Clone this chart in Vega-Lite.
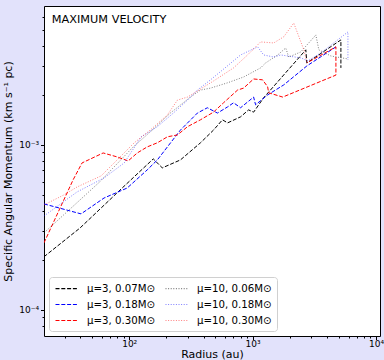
{
  "$schema": "https://vega.github.io/schema/vega-lite/v6.json",
  "width": 336,
  "height": 330,
  "autosize": {"type": "none"},
  "padding": {"left": 44, "top": 6, "right": 4, "bottom": 24},
  "background": "#e2e2fb",
  "config": {
    "font": "DejaVu Sans",
    "view": {"stroke": "#000000", "strokeWidth": 1, "fill": "white"},
    "axis": {"domain": false, "grid": false, "tickColor": "#000000", "labelColor": "#000000", "titleColor": "#000000", "titleFontWeight": "normal", "labelFont": "DejaVu Sans", "titleFont": "DejaVu Sans"}
  },
  "data": {
    "values": [
      {"s": "μ=3, 0.07M⊙", "i": 0, "r": 20.4, "j": 0.000210},
      {"s": "μ=3, 0.07M⊙", "i": 1, "r": 40.0, "j": 0.000314},
      {"s": "μ=3, 0.07M⊙", "i": 2, "r": 87.7, "j": 0.000548},
      {"s": "μ=3, 0.07M⊙", "i": 3, "r": 156.7, "j": 0.000823},
      {"s": "μ=3, 0.07M⊙", "i": 4, "r": 185.4, "j": 0.000726},
      {"s": "μ=3, 0.07M⊙", "i": 5, "r": 260, "j": 0.000811},
      {"s": "μ=3, 0.07M⊙", "i": 6, "r": 378, "j": 0.00103},
      {"s": "μ=3, 0.07M⊙", "i": 7, "r": 482, "j": 0.00123},
      {"s": "μ=3, 0.07M⊙", "i": 8, "r": 570, "j": 0.00142},
      {"s": "μ=3, 0.07M⊙", "i": 9, "r": 627, "j": 0.00136},
      {"s": "μ=3, 0.07M⊙", "i": 10, "r": 799, "j": 0.00148},
      {"s": "μ=3, 0.07M⊙", "i": 11, "r": 927, "j": 0.00163},
      {"s": "μ=3, 0.07M⊙", "i": 12, "r": 1019, "j": 0.00158},
      {"s": "μ=3, 0.07M⊙", "i": 13, "r": 1228, "j": 0.00193},
      {"s": "μ=3, 0.07M⊙", "i": 14, "r": 2699, "j": 0.00377},
      {"s": "μ=3, 0.07M⊙", "i": 15, "r": 2750, "j": 0.00314},
      {"s": "μ=3, 0.07M⊙", "i": 16, "r": 5193, "j": 0.00433},
      {"s": "μ=3, 0.07M⊙", "i": 17, "r": 5193, "j": 0.00293},

      {"s": "μ=3, 0.18M⊙", "i": 0, "r": 20.4, "j": 0.000439},
      {"s": "μ=3, 0.18M⊙", "i": 1, "r": 40.7, "j": 0.000382},
      {"s": "μ=3, 0.18M⊙", "i": 2, "r": 62.6, "j": 0.000477},
      {"s": "μ=3, 0.18M⊙", "i": 3, "r": 96.3, "j": 0.000548},
      {"s": "μ=3, 0.18M⊙", "i": 4, "r": 140, "j": 0.000706},
      {"s": "μ=3, 0.18M⊙", "i": 5, "r": 169, "j": 0.000811},
      {"s": "μ=3, 0.18M⊙", "i": 6, "r": 204, "j": 0.000973},
      {"s": "μ=3, 0.18M⊙", "i": 7, "r": 260, "j": 0.00123},
      {"s": "μ=3, 0.18M⊙", "i": 8, "r": 357, "j": 0.00156},
      {"s": "μ=3, 0.18M⊙", "i": 9, "r": 430, "j": 0.00168},
      {"s": "μ=3, 0.18M⊙", "i": 10, "r": 519, "j": 0.00156},
      {"s": "μ=3, 0.18M⊙", "i": 11, "r": 627, "j": 0.00170},
      {"s": "μ=3, 0.18M⊙", "i": 12, "r": 701, "j": 0.00180},
      {"s": "μ=3, 0.18M⊙", "i": 13, "r": 799, "j": 0.00168},
      {"s": "μ=3, 0.18M⊙", "i": 14, "r": 1019, "j": 0.00195},
      {"s": "μ=3, 0.18M⊙", "i": 15, "r": 1057, "j": 0.00175},
      {"s": "μ=3, 0.18M⊙", "i": 16, "r": 1324, "j": 0.00201},
      {"s": "μ=3, 0.18M⊙", "i": 17, "r": 1787, "j": 0.00231},
      {"s": "μ=3, 0.18M⊙", "i": 18, "r": 2750, "j": 0.00301},
      {"s": "μ=3, 0.18M⊙", "i": 19, "r": 4732, "j": 0.00393},

      {"s": "μ=3, 0.30M⊙", "i": 0, "r": 20.4, "j": 0.000255},
      {"s": "μ=3, 0.30M⊙", "i": 1, "r": 35.1, "j": 0.000614},
      {"s": "μ=3, 0.30M⊙", "i": 2, "r": 41.5, "j": 0.000778},
      {"s": "μ=3, 0.30M⊙", "i": 3, "r": 61.5, "j": 0.000894},
      {"s": "μ=3, 0.30M⊙", "i": 4, "r": 79.9, "j": 0.000846},
      {"s": "μ=3, 0.30M⊙", "i": 5, "r": 98.1, "j": 0.000800},
      {"s": "μ=3, 0.30M⊙", "i": 6, "r": 116.2, "j": 0.000894},
      {"s": "μ=3, 0.30M⊙", "i": 7, "r": 140, "j": 0.000973},
      {"s": "μ=3, 0.30M⊙", "i": 8, "r": 169, "j": 0.00103},
      {"s": "μ=3, 0.30M⊙", "i": 9, "r": 204, "j": 0.00112},
      {"s": "μ=3, 0.30M⊙", "i": 10, "r": 246, "j": 0.00115},
      {"s": "μ=3, 0.30M⊙", "i": 11, "r": 297, "j": 0.00129},
      {"s": "μ=3, 0.30M⊙", "i": 12, "r": 378, "j": 0.00142},
      {"s": "μ=3, 0.30M⊙", "i": 13, "r": 482, "j": 0.00158},
      {"s": "μ=3, 0.30M⊙", "i": 14, "r": 581, "j": 0.00180},
      {"s": "μ=3, 0.30M⊙", "i": 15, "r": 755, "j": 0.00215},
      {"s": "μ=3, 0.30M⊙", "i": 16, "r": 845, "j": 0.00221},
      {"s": "μ=3, 0.30M⊙", "i": 17, "r": 1019, "j": 0.00251},
      {"s": "μ=3, 0.30M⊙", "i": 18, "r": 1205, "j": 0.00248},
      {"s": "μ=3, 0.30M⊙", "i": 19, "r": 1324, "j": 0.00225},
      {"s": "μ=3, 0.30M⊙", "i": 20, "r": 1349, "j": 0.00207},
      {"s": "μ=3, 0.30M⊙", "i": 21, "r": 1754, "j": 0.00195},
      {"s": "μ=3, 0.30M⊙", "i": 22, "r": 4732, "j": 0.00265},
      {"s": "μ=3, 0.30M⊙", "i": 23, "r": 4732, "j": 0.00393},
      {"s": "μ=3, 0.30M⊙", "i": 24, "r": 2750, "j": 0.00314},

      {"s": "μ=10, 0.06M⊙", "i": 0, "r": 20.4, "j": 0.000293},
      {"s": "μ=10, 0.06M⊙", "i": 1, "r": 58.1, "j": 0.000600},
      {"s": "μ=10, 0.06M⊙", "i": 2, "r": 107.8, "j": 0.000973},
      {"s": "μ=10, 0.06M⊙", "i": 3, "r": 148.2, "j": 0.00120},
      {"s": "μ=10, 0.06M⊙", "i": 4, "r": 215.4, "j": 0.00156},
      {"s": "μ=10, 0.06M⊙", "i": 5, "r": 313.6, "j": 0.00195},
      {"s": "μ=10, 0.06M⊙", "i": 6, "r": 378, "j": 0.00215},
      {"s": "μ=10, 0.06M⊙", "i": 7, "r": 456, "j": 0.00221},
      {"s": "μ=10, 0.06M⊙", "i": 8, "r": 627, "j": 0.00238},
      {"s": "μ=10, 0.06M⊙", "i": 9, "r": 845, "j": 0.00258},
      {"s": "μ=10, 0.06M⊙", "i": 10, "r": 1161, "j": 0.00293},
      {"s": "μ=10, 0.06M⊙", "i": 11, "r": 1275, "j": 0.00314},
      {"s": "μ=10, 0.06M⊙", "i": 12, "r": 1597, "j": 0.00351},
      {"s": "μ=10, 0.06M⊙", "i": 13, "r": 1855, "j": 0.00387},
      {"s": "μ=10, 0.06M⊙", "i": 14, "r": 1962, "j": 0.00341},
      {"s": "μ=10, 0.06M⊙", "i": 15, "r": 2456, "j": 0.00366},
      {"s": "μ=10, 0.06M⊙", "i": 16, "r": 3253, "j": 0.00464},
      {"s": "μ=10, 0.06M⊙", "i": 17, "r": 3441, "j": 0.00377},
      {"s": "μ=10, 0.06M⊙", "i": 18, "r": 4306, "j": 0.00346},
      {"s": "μ=10, 0.06M⊙", "i": 19, "r": 5921, "j": 0.00332},

      {"s": "μ=10, 0.18M⊙", "i": 0, "r": 20.4, "j": 0.000371},
      {"s": "μ=10, 0.18M⊙", "i": 1, "r": 37.8, "j": 0.000519},
      {"s": "μ=10, 0.18M⊙", "i": 2, "r": 62.6, "j": 0.000631},
      {"s": "μ=10, 0.18M⊙", "i": 3, "r": 91.1, "j": 0.000778},
      {"s": "μ=10, 0.18M⊙", "i": 4, "r": 125.2, "j": 0.00112},
      {"s": "μ=10, 0.18M⊙", "i": 5, "r": 169, "j": 0.00129},
      {"s": "μ=10, 0.18M⊙", "i": 6, "r": 228, "j": 0.00156},
      {"s": "μ=10, 0.18M⊙", "i": 7, "r": 297, "j": 0.00187},
      {"s": "μ=10, 0.18M⊙", "i": 8, "r": 357, "j": 0.00215},
      {"s": "μ=10, 0.18M⊙", "i": 9, "r": 456, "j": 0.00248},
      {"s": "μ=10, 0.18M⊙", "i": 10, "r": 638, "j": 0.00305},
      {"s": "μ=10, 0.18M⊙", "i": 11, "r": 799, "j": 0.00351},
      {"s": "μ=10, 0.18M⊙", "i": 12, "r": 1099, "j": 0.00393},
      {"s": "μ=10, 0.18M⊙", "i": 13, "r": 1228, "j": 0.00351},
      {"s": "μ=10, 0.18M⊙", "i": 14, "r": 1482, "j": 0.00341},
      {"s": "μ=10, 0.18M⊙", "i": 15, "r": 1690, "j": 0.00351},
      {"s": "μ=10, 0.18M⊙", "i": 16, "r": 2456, "j": 0.00337},
      {"s": "μ=10, 0.18M⊙", "i": 17, "r": 2801, "j": 0.00323},
      {"s": "μ=10, 0.18M⊙", "i": 18, "r": 3573, "j": 0.00361},
      {"s": "μ=10, 0.18M⊙", "i": 19, "r": 5921, "j": 0.00484},
      {"s": "μ=10, 0.18M⊙", "i": 20, "r": 5921, "j": 0.00327},

      {"s": "μ=10, 0.30M⊙", "i": 0, "r": 20.4, "j": 0.000433},
      {"s": "μ=10, 0.30M⊙", "i": 1, "r": 29.6, "j": 0.000498},
      {"s": "μ=10, 0.30M⊙", "i": 2, "r": 37.8, "j": 0.000556},
      {"s": "μ=10, 0.30M⊙", "i": 3, "r": 59.2, "j": 0.000649},
      {"s": "μ=10, 0.30M⊙", "i": 4, "r": 75.5, "j": 0.000778},
      {"s": "μ=10, 0.30M⊙", "i": 5, "r": 109.8, "j": 0.00103},
      {"s": "μ=10, 0.30M⊙", "i": 6, "r": 148, "j": 0.00123},
      {"s": "μ=10, 0.30M⊙", "i": 7, "r": 204, "j": 0.00152},
      {"s": "μ=10, 0.30M⊙", "i": 8, "r": 246, "j": 0.00187},
      {"s": "μ=10, 0.30M⊙", "i": 9, "r": 297, "j": 0.00195},
      {"s": "μ=10, 0.30M⊙", "i": 10, "r": 378, "j": 0.00218},
      {"s": "μ=10, 0.30M⊙", "i": 11, "r": 482, "j": 0.00244},
      {"s": "μ=10, 0.30M⊙", "i": 12, "r": 701, "j": 0.00293},
      {"s": "μ=10, 0.30M⊙", "i": 13, "r": 910, "j": 0.00351},
      {"s": "μ=10, 0.30M⊙", "i": 14, "r": 1161, "j": 0.00421},
      {"s": "μ=10, 0.30M⊙", "i": 15, "r": 1482, "j": 0.00415},
      {"s": "μ=10, 0.30M⊙", "i": 16, "r": 1787, "j": 0.00452},
      {"s": "μ=10, 0.30M⊙", "i": 17, "r": 2155, "j": 0.00548},
      {"s": "μ=10, 0.30M⊙", "i": 18, "r": 2600, "j": 0.00377},
      {"s": "μ=10, 0.30M⊙", "i": 19, "r": 2750, "j": 0.00318}
    ]
  },
  "layer": [
    {
      "mark": {"type": "line", "strokeWidth": 1, "clip": true},
      "encoding": {
        "x": {
          "field": "r", "type": "quantitative",
          "scale": {"type": "log", "domain": [20.4, 10770], "nice": false},
          "axis": {"orient": "bottom", "values": [100, 1000, 10000], "tickSize": 3.5, "labelPadding": 0, "labelFontSize": 9,
                   "labelExpr": "datum.value == 100 ? '10²' : datum.value == 1000 ? '10³' : datum.value == 10000 ? '10⁴' : ''",
                   "labelFlush": false, "labelOverlap": false,
                   "title": "Radius (au)", "titleFontSize": 11, "titlePadding": 0}
        },
        "y": {
          "field": "j", "type": "quantitative",
          "scale": {"type": "log", "domain": [0.0000695, 0.00695], "nice": false},
          "axis": {"orient": "left", "values": [0.0001, 0.001], "tickSize": 3.5, "labelPadding": 2, "labelFontSize": 9,
                   "labelExpr": "datum.value < 0.0005 ? '10⁻⁴' : '10⁻³'",
                   "labelFlush": false, "labelOverlap": false,
                   "title": "Specific Angular Momentum (km s⁻¹ pc)", "titleFontSize": 11, "titlePadding": 5}
        },
        "color": {
          "field": "s", "type": "nominal",
          "scale": {
            "domain": ["μ=3, 0.07M⊙", "μ=3, 0.18M⊙", "μ=3, 0.30M⊙", "μ=10, 0.06M⊙", "μ=10, 0.18M⊙", "μ=10, 0.30M⊙"],
            "range": ["#000000", "#0000ff", "#ff0000", "rgba(0,0,0,0.5)", "rgba(0,0,255,0.5)", "rgba(255,0,0,0.5)"]
          },
          "legend": {
            "orient": "bottom-left", "offset": 5, "columns": 2, "columnPadding": 8, "rowPadding": 4,
            "title": null, "symbolType": "M-2,0H2", "symbolSize": 121, "symbolStrokeWidth": 1.2, "symbolOffset": 6,
            "labelFontSize": 10.2, "labelFont": "DejaVu Sans", "labelColor": "#000000", "labelOffset": 14,
            "fillColor": "#ffffff", "strokeColor": "#d0d0d0", "cornerRadius": 3, "padding": 5,
            "encode": {
              "symbols": {
                "update": {
                  "stroke": {"scale": "color", "field": "value"},
                  "strokeDash": {"scale": "strokeDash", "field": "value"}
                }
              }
            }
          }
        },
        "strokeDash": {
          "field": "s", "type": "nominal",
          "scale": {
            "domain": ["μ=3, 0.07M⊙", "μ=3, 0.18M⊙", "μ=3, 0.30M⊙", "μ=10, 0.06M⊙", "μ=10, 0.18M⊙", "μ=10, 0.30M⊙"],
            "range": [[4, 1.8], [4, 1.8], [4, 1.8], [1, 1.6], [1, 1.6], [1, 1.6]]
          }
        },
        "order": {"field": "i", "type": "quantitative"}
      }
    },
    {
      "mark": {"type": "line", "opacity": 0},
      "encoding": {
        "x": {
          "field": "r", "type": "quantitative",
          "axis": {"orient": "bottom", "values": [30, 40, 50, 60, 70, 80, 90, 200, 300, 400, 500, 600, 700, 800, 900, 2000, 3000, 4000, 5000, 6000, 7000, 8000, 9000],
                   "tickSize": 2, "labels": false, "title": null}
        },
        "y": {
          "field": "j", "type": "quantitative",
          "axis": {"orient": "left", "values": [0.00008, 0.00009, 0.0002, 0.0003, 0.0004, 0.0005, 0.0006, 0.0007, 0.0008, 0.0009, 0.002, 0.003, 0.004, 0.005, 0.006],
                   "tickSize": 2, "labels": false, "title": null}
        },
        "detail": {"field": "s", "type": "nominal"},
        "order": {"field": "i", "type": "quantitative"}
      }
    },
    {
      "data": {"values": [{"label": "MAXIMUM VELOCITY"}]},
      "mark": {"type": "text", "align": "left", "baseline": "middle", "fontSize": 11.3, "font": "DejaVu Sans", "color": "#000000"},
      "encoding": {
        "x": {"datum": 23.6, "type": "quantitative", "axis": null},
        "y": {"datum": 0.0057, "type": "quantitative", "axis": null},
        "text": {"field": "label"}
      }
    }
  ],
  "resolve": {"axis": {"x": "independent", "y": "independent"}}
}
